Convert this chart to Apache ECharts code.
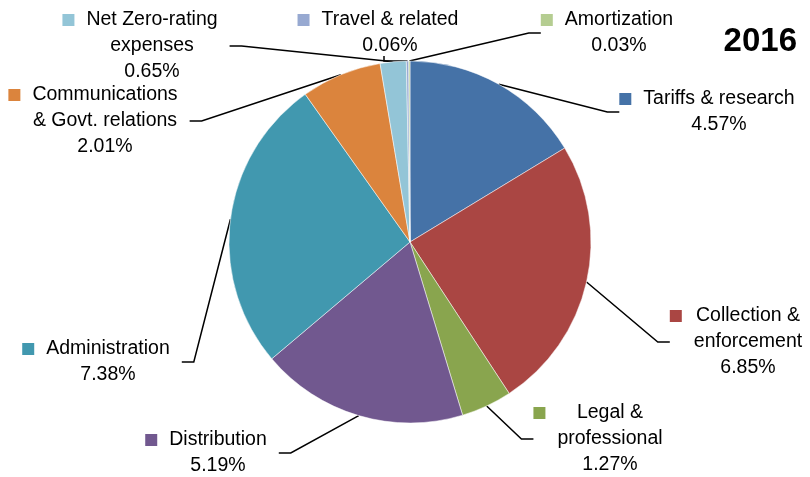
<!DOCTYPE html>
<html><head><meta charset="utf-8">
<script src="https://cdn.jsdelivr.net/npm/echarts@6/dist/echarts.min.js"></script>
<style>html,body{margin:0;padding:0;background:#fff}#c{width:810px;height:477px}</style>
</head><body><div id="c"></div>
<script>
// ---- data ----
const categories = ['Tariffs & research','Collection & enforcement','Legal & professional','Distribution','Administration','Communications & Govt. relations','Net Zero-rating expenses','Travel & related','Amortization'];
const labelTextLines = [['Tariffs & research'],['Collection &','enforcement'],['Legal &','professional'],['Distribution'],['Administration'],['Communications','& Govt. relations'],['Net Zero-rating','expenses'],['Travel & related'],['Amortization']];
const values = [4.57, 6.85, 1.27, 5.19, 7.38, 2.01, 0.65, 0.06, 0.03];
const valueLabels = ['4.57%','6.85%','1.27%','5.19%','7.38%','2.01%','0.65%','0.06%','0.03%'];
const titleText = '2016';

// ---- style ----
const colors = ['#4572A7','#AA4643','#89A54E','#71588F','#4198AF','#DB843D','#93C5D7','#97A9D1','#B5CD91'];
const labelPos = [[719,112],[748,342],[610,439],[218,453],[108,362],[105,121],[152,46],[390,33],[619,33]];
const FONT_SIZE = 19.5, FONT_FAMILY = 'Liberation Sans', LINE_H = 26;

const ctx = document.createElement('canvas').getContext('2d');
ctx.font = FONT_SIZE + 'px "' + FONT_FAMILY + '"';
const rich = {
  t: {fontSize: FONT_SIZE, fontFamily: FONT_FAMILY, color: '#000', lineHeight: LINE_H},
  gap: {width: 12, height: 12},
  pad: {width: 24, height: 12}
};
categories.forEach((c, i) => {
  const lines = labelTextLines[i].concat([valueLabels[i]]);
  const W = Math.max.apply(null, lines.map(l => ctx.measureText(l).width));
  const w1 = ctx.measureText(lines[0]).width;
  rich['sq' + i] = {width: 12, height: 12, backgroundColor: colors[i]};
  rich['sp' + i] = {width: Math.max(0.01, (W - w1) / 2), height: 12};
});

const chart = echarts.init(document.getElementById('c'), null, {renderer: 'canvas'});
chart.setOption({
  animation: false,
  backgroundColor: '#fff',
  title: {
    text: titleText, right: 8, top: 20,
    textStyle: {fontSize: 33, fontWeight: 'bold', fontFamily: FONT_FAMILY, color: '#000'}
  },
  series: [{
    type: 'pie',
    center: [410, 242],
    radius: 181,
    startAngle: 90,
    clockwise: true,
    avoidLabelOverlap: false,
    itemStyle: {borderColor: '#fff', borderWidth: 0.5},
    emphasis: {disabled: true},
    data: categories.map((c, i) => ({name: c, value: values[i], itemStyle: {color: colors[i]}})),
    label: {
      show: true,
      position: 'outside',
      align: 'center',
      rich: rich,
      formatter: p => {
        const i = p.dataIndex;
        const lines = labelTextLines[i].concat([valueLabels[i]]);
        let s = '{sq' + i + '|}{gap|}{sp' + i + '|}{t|' + lines[0] + '}{sp' + i + '|}{pad|}';
        for (let k = 1; k < lines.length; k++) s += '\n{t|' + lines[k] + '}';
        return s;
      }
    },
    labelLine: {show: true, length: 10, length2: 12, lineStyle: {color: '#000', width: 1.5}},
    labelLayout: p => ({
      x: labelPos[p.dataIndex][0],
      y: labelPos[p.dataIndex][1],
      align: 'center',
      verticalAlign: 'middle'
    })
  }]
});
</script></body></html>
